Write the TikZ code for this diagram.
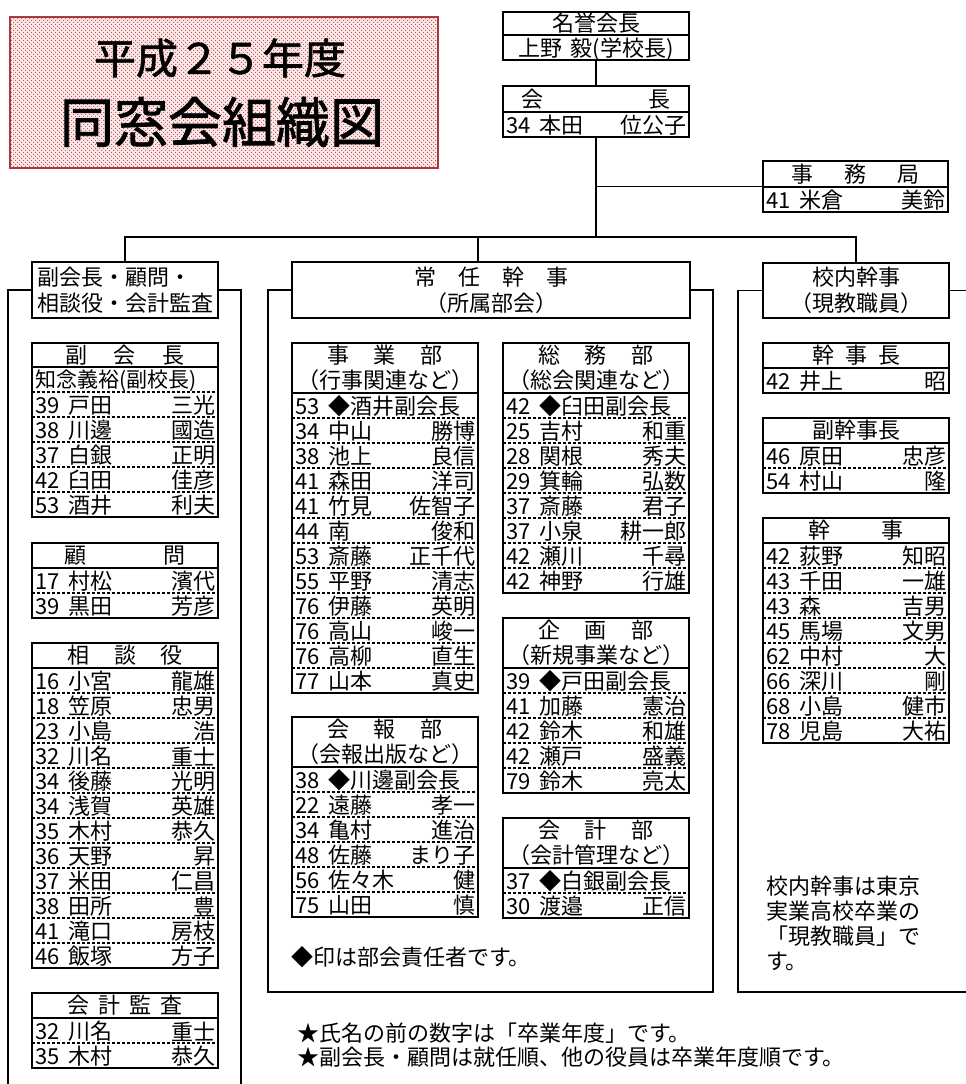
\documentclass[tikz,border=0pt]{standalone}
\usepackage{fontspec}
\setmainfont{Noto Sans CJK JP}
\newfontfamily\titlefont[FakeBold=1.5]{Noto Sans CJK JP}
\usetikzlibrary{patterns.meta}
\definecolor{dotred}{RGB}{205,70,70}
\definecolor{titlefill}{RGB}{248,232,232}
\definecolor{titleborder}{RGB}{165,60,60}
\newcommand\gap[1]{\hspace*{#1em}}
\newcommand\txtfont{\fontsize{22}{25}\selectfont\spaceskip 0.4em\relax}
\tikzset{
  orgline/.style={line width=1.8pt},
  headrule/.style={line width=1.8pt},
  boxframe/.style={draw, line width=1.8pt, inner sep=0pt, outer sep=0pt, anchor=north west},
  sep/.style={line width=1.1pt, dash pattern=on 3pt off 2pt},
  txt/.style={inner sep=0pt, outer sep=0pt, font=\txtfont},
  hdrbox/.style={boxframe, font=\fontsize{22}{26}\selectfont},
}
\newcommand\orgbox[8]{%
  \pgfmathsetmacro\obw{#3-#2}%
  \pgfmathsetmacro\obh{#5+25*#7}%
  \pgfmathsetmacro\ohy{#4+#5}%
  \pgfmathsetmacro\ohc{#4+#5/2}%
  \pgfmathsetmacro\obx{(#2+#3)/2}%
  \node[boxframe, minimum width=\obw pt, minimum height=\obh pt] (#1) at (#2,#4) {};
  \node[txt, align=center] (#1-h) at (\obx,\ohc) {#6};
  \draw[headrule] (#2,\ohy) -- (#3,\ohy);
  \foreach \xl/\xr [count=\i] in {#8} {%
    \pgfmathsetmacro\yc{#4+#5+25*\i-12.5}%
    \node[txt, anchor=west] (#1-l\i) at (#2+3,\yc+1) {\xl};
    \node[txt, anchor=east] (#1-r\i) at (#3-3,\yc+1) {\xr};
    \ifnum\i<#7 \draw[sep] (#2,\yc+12.5) -- (#3,\yc+12.5);\fi
  }%
}
\begin{document}
\begin{tikzpicture}[x=1pt,y=-1pt]
\useasboundingbox (0,0) rectangle (966,1084);

% title
\node[inner sep=0pt, outer sep=0pt, anchor=north west, minimum width=428pt, minimum height=151pt,
  fill=titlefill] (title) at (10,17) {};
\path[pattern={Dots[distance=4pt,radius=0.75pt]}, pattern color=dotred]
  (title.south west) rectangle (title.north east);
\path[pattern={Dots[distance=4pt,radius=0.75pt,xshift=2pt,yshift=2pt]}, pattern color=dotred]
  (title.south west) rectangle (title.north east);
\draw[titleborder, line width=1.3pt] (title.south west) rectangle (title.north east);
\node[inner sep=0pt, font=\fontsize{42}{42}\selectfont\titlefont] (t1) at (220,58) {平成２５年度};
\node[inner sep=0pt, font=\fontsize{54}{54}\selectfont\titlefont] (t2) at (222,122) {同窓会組織図};

% top
\orgbox{meiyo}{503}{689}{12}{23}{名誉会長}{1}{{}/{}}
\node[txt] (meiyo-c) at (596,49) {上野 毅(学校長)};
\orgbox{kaicho}{503}{689}{86}{26}{会\gap{4.8}長}{1}{{34 本田}/{位公子}}
\orgbox{jimu}{763}{948}{161}{26}{事\gap{1.4}務\gap{1.4}局}{1}{{41 米倉}/{美鈴}}

% column headers
\node[hdrbox, minimum width=186pt, minimum height=56pt, align=left] (lhdr) at (32,262) {副会長・顧問・\\相談役・会計監査};
\node[hdrbox, minimum width=398pt, minimum height=56pt, align=center] (mhdr) at (292,262) {常\gap{1}任\gap{1}幹\gap{1}事\\（所属部会）};
\node[hdrbox, minimum width=186pt, minimum height=55pt, align=center] (rhdr) at (763,263) {校内幹事\\（現教職員）};

% connectors
\coordinate (bus) at (596,237);
\coordinate (mdrop) at (478,237);
\draw[orgline] (meiyo.south) -- (kaicho.north);
\draw[orgline] (kaicho.south) -- (bus);
\draw[orgline] (kaicho.south |- jimu.west) -- (jimu.west);
\draw[orgline] (lhdr.north) |- (bus);
\draw[orgline] (rhdr.north) |- (bus);
\draw[orgline] (mdrop) -- (mdrop |- mhdr.north);

% frames
\draw[orgline] (lhdr.west) -| (8,1090);
\draw[orgline] (lhdr.east) -| (241,1090);
\draw[orgline] (mhdr.west) -| (268,992) -- (713,992) |- (mhdr.east);
\draw[orgline] (rhdr.east) -- (rhdr.east -| 970,0);
\draw[orgline] (rhdr.west) -| (738,992) -- (970,992);

% left column
\orgbox{fuku}{32}{218}{343}{24}{副\gap{1.2}会\gap{1.2}長}{6}{%
  {{\fontsize{21}{25}\selectfont 知念義裕(副校長)}}/{}, {39 戸田}/{三光}, {38 川邊}/{國造},
  {37 白銀}/{正明}, {42 臼田}/{佳彦}, {53 酒井}/{利夫}}
\orgbox{komon}{32}{218}{543}{25}{顧\gap{3.5}問}{2}{{17 村松}/{濱代}, {39 黒田}/{芳彦}}
\orgbox{sodan}{32}{218}{643}{25}{相\gap{1.1}談\gap{1.1}役}{12}{%
  {16 小宮}/{龍雄}, {18 笠原}/{忠男}, {23 小島}/{浩}, {32 川名}/{重士},
  {34 後藤}/{光明}, {34 浅賀}/{英雄}, {35 木村}/{恭久}, {36 天野}/{昇},
  {37 米田}/{仁昌}, {38 田所}/{豊}, {41 滝口}/{房枝}, {46 飯塚}/{方子}}
\orgbox{kansa}{32}{218}{993}{25}{会\gap{0.4}計\gap{0.4}監\gap{0.4}査}{2}{{32 川名}/{重士}, {35 木村}/{恭久}}

% middle column
\orgbox{jigyo}{292}{478}{343}{50}{事\gap{1.1}業\gap{1.1}部\\（行事関連など）}{12}{%
  {53 ◆酒井副会長}/{}, {34 中山}/{勝博}, {38 池上}/{良信}, {41 森田}/{洋司},
  {41 竹見}/{佐智子}, {44 南}/{俊和}, {53 斎藤}/{正千代}, {55 平野}/{清志},
  {76 伊藤}/{英明}, {76 高山}/{峻一}, {76 高柳}/{直生}, {77 山本}/{真史}}
\orgbox{kaiho}{292}{478}{717}{50}{会\gap{1.1}報\gap{1.1}部\\（会報出版など）}{6}{%
  {38 ◆川邊副会長}/{}, {22 遠藤}/{孝一}, {34 亀村}/{進治}, {48 佐藤}/{まり子},
  {56 佐々木}/{健}, {75 山田}/{慎}}
\orgbox{somu}{503}{689}{343}{50}{総\gap{1.1}務\gap{1.1}部\\（総会関連など）}{8}{%
  {42 ◆臼田副会長}/{}, {25 吉村}/{和重}, {28 関根}/{秀夫}, {29 箕輪}/{弘数},
  {37 斎藤}/{君子}, {37 小泉}/{耕一郎}, {42 瀬川}/{千尋}, {42 神野}/{行雄}}
\orgbox{kikaku}{503}{689}{618}{50}{企\gap{1.1}画\gap{1.1}部\\（新規事業など）}{5}{%
  {39 ◆戸田副会長}/{}, {41 加藤}/{憲治}, {42 鈴木}/{和雄}, {42 瀬戸}/{盛義}, {79 鈴木}/{亮太}}
\orgbox{kaikei}{503}{689}{818}{50}{会\gap{1.1}計\gap{1.1}部\\（会計管理など）}{2}{%
  {37 ◆白銀副会長}/{}, {30 渡邉}/{正信}}
\node[txt, anchor=west] (note1) at (291,957) {◆印は部会責任者です。};

% right column
\orgbox{kanjicho}{763}{949}{343}{25}{幹\gap{0.5}事\gap{0.5}長}{1}{{42 井上}/{昭}}
\orgbox{fukukanji}{763}{949}{418}{25}{副幹事長}{2}{{46 原田}/{忠彦}, {54 村山}/{隆}}
\orgbox{kanji}{763}{949}{518}{25}{幹\gap{2.3}事}{8}{%
  {42 荻野}/{知昭}, {43 千田}/{一雄}, {43 森}/{吉男}, {45 馬場}/{文男},
  {62 中村}/{大}, {66 深川}/{剛}, {68 小島}/{健市}, {78 児島}/{大祐}}
\node[txt, anchor=west] (rn1) at (766,886) {校内幹事は東京};
\node[txt, anchor=west] (rn2) at (766,911) {実業高校卒業の};
\node[txt, anchor=west] (rn3) at (766,936) {「現教職員」で};
\node[txt, anchor=west] (rn4) at (766,961) {す。};

% bottom notes
\node[txt, anchor=west] (star1) at (297,1033) {★氏名の前の数字は「卒業年度」です。};
\node[txt, anchor=west] (star2) at (297,1057) {★副会長・顧問は就任順、他の役員は卒業年度順です。};
\end{tikzpicture}
\end{document}
